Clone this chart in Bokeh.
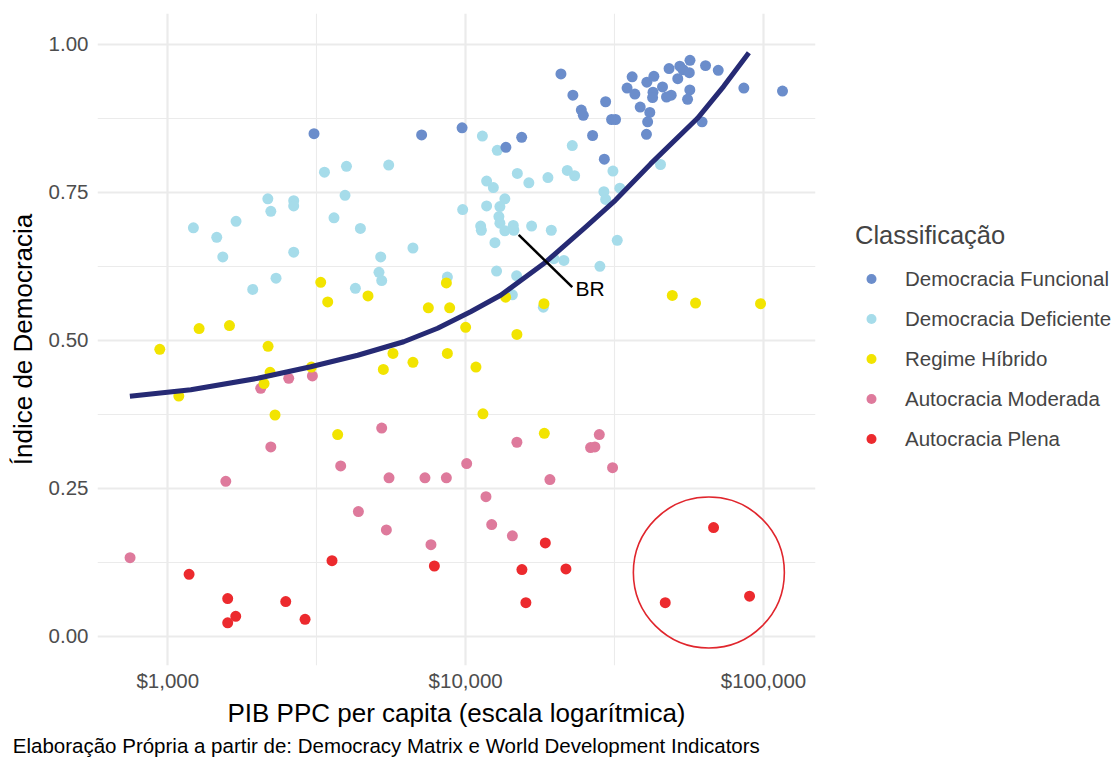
from bokeh.plotting import figure
from bokeh.models import (Range1d, FixedTicker, NumeralTickFormatter, Legend,
                          LegendItem, Label, Title)
from bokeh.embed import file_html
from bokeh.resources import INLINE

FONT = "Liberation Sans"

# ---------------- data ----------------
funcional_gdp = [3097, 7115, 9727, 13650, 15420, 20890, 22910, 24450, 24830, 26680,
                 29210, 29510, 30900, 31860, 36220, 34830, 36990, 40580, 42850, 38550,
                 41520, 40830, 40460, 42560, 42420, 45810, 48180, 52360, 53700, 56640,
                 56340, 51540, 56580, 47250, 48990, 55590, 62190, 63880, 70470, 85900,
                 115800]
funcional_idx = [0.849, 0.847, 0.859, 0.826, 0.843, 0.950, 0.914, 0.889, 0.880, 0.846,
                 0.806, 0.903, 0.873, 0.873, 0.945, 0.926, 0.916, 0.936, 0.946, 0.894,
                 0.885, 0.869, 0.848, 0.919, 0.910, 0.928, 0.959, 0.963, 0.957, 0.973,
                 0.952, 0.942, 0.923, 0.911, 0.914, 0.907, 0.869, 0.964, 0.956, 0.926,
                 0.921]

deficiente_gdp = [3357, 3980, 5517, 3936, 2167, 2218, 2647, 2647, 1695, 1219,
                  1460, 1530, 3614, 4432, 2647, 6654, 5186, 5117, 5226, 2309,
                  1928, 4264, 9772, 8682, 11380, 12770, 14910, 16300, 18890, 21940,
                  23220, 22800, 31220, 11760, 12390, 29110, 29510, 32940, 11760, 13540,
                  13030, 12930, 13030, 11230, 11290, 13540, 14450, 14520, 16650, 19390,
                  12540, 32280, 19780, 21370, 28230, 12700, 14830, 14350, 18230, 45100]
deficiente_idx = [0.784, 0.794, 0.796, 0.745, 0.739, 0.718, 0.736, 0.727, 0.701, 0.690,
                  0.674, 0.641, 0.707, 0.689, 0.649, 0.656, 0.641, 0.615, 0.601, 0.605,
                  0.586, 0.588, 0.721, 0.607, 0.845, 0.821, 0.782, 0.766, 0.775, 0.787,
                  0.778, 0.829, 0.786, 0.769, 0.758, 0.751, 0.738, 0.757, 0.727, 0.739,
                  0.726, 0.709, 0.698, 0.693, 0.686, 0.685, 0.694, 0.686, 0.693, 0.686,
                  0.665, 0.669, 0.638, 0.635, 0.625, 0.617, 0.609, 0.577, 0.556, 0.797]

hibrido_gdp = [3262, 3443, 4700, 7495, 8837, 8615, 1274, 1611, 10000, 940,
               2171, 1089, 2205, 2105, 2291, 5702, 5292, 6654, 8682, 3718,
               3035, 14860, 10830, 11430, 18370, 49400, 59130, 97720, 13620, 18320]
hibrido_idx = [0.598, 0.565, 0.575, 0.555, 0.555, 0.597, 0.520, 0.525, 0.522, 0.485,
               0.490, 0.406, 0.446, 0.427, 0.374, 0.478, 0.451, 0.463, 0.478, 0.341,
               0.455, 0.510, 0.455, 0.376, 0.343, 0.576, 0.563, 0.562, 0.573, 0.562]

moderada_gdp = [2547, 3058, 2051, 5226, 2218, 3806, 1566, 5530, 7301, 8615,
                10080, 4364, 5418, 7648, 747, 14860, 28100, 26270, 27160, 31130,
                19180, 11700, 12230, 14350]
moderada_idx = [0.436, 0.440, 0.419, 0.352, 0.320, 0.288, 0.262, 0.268, 0.268, 0.268,
                0.292, 0.211, 0.180, 0.155, 0.133, 0.328, 0.341, 0.319, 0.320, 0.285,
                0.265, 0.236, 0.189, 0.170]

plena_gdp = [1179, 3559, 7852, 1589, 2489, 1691, 1589, 2890, 18510, 15450,
             21710, 15930, 46780, 67970, 89770]
plena_idx = [0.105, 0.128, 0.119, 0.064, 0.059, 0.034, 0.023, 0.029, 0.158, 0.113,
             0.114, 0.057, 0.057, 0.184, 0.068]

# smoothed trend
curve_gdp = [746, 1195, 2005, 3019, 4341, 6194, 8054, 10390, 13105, 18550,
             25270, 31870, 41770, 60030, 73500, 89290]
curve_idx = [0.4056, 0.4166, 0.436, 0.4555, 0.4749, 0.4977, 0.5205, 0.5484, 0.5763, 0.632,
             0.6912, 0.7369, 0.7980, 0.8750, 0.9290, 0.9858]

# annotations
br_from = (15070, 0.678)
br_to = (22800, 0.590)
br_text_pos = (23390, 0.588)
circle_center = (65540, 0.108)

categories = ["Democracia Funcional", "Democracia Deficiente", "Regime Híbrido",
              "Autocracia Moderada", "Autocracia Plena"]
colors = ["#6B8DCB", "#A6DCEA", "#F2E400", "#DE7A9C", "#EC2A2E"]

x_ticks = [1000, 10000, 100000]
x_minor = [316.23, 3162.3, 31623, 316228]
y_ticks = [0.0, 0.25, 0.5, 0.75, 1.0]
y_minor = [0.125, 0.375, 0.625, 0.875]

caption = "Elaboração Própria a partir de: Democracy Matrix e World Development Indicators"

# ---------------- figure ----------------
p = figure(x_axis_type="log",
           x_range=Range1d(580.8, 149460), y_range=Range1d(-0.049, 1.052),
           frame_width=718, frame_height=652,
           min_border_left=97, min_border_top=13, min_border_right=301,
           min_border_bottom=80,
           output_backend="svg", toolbar_location=None)
p.outline_line_color = None
p.background_fill_color = "white"
p.border_fill_color = "white"

for ax, ticks, minor in ((p.xaxis, x_ticks, x_minor), (p.yaxis, y_ticks, y_minor)):
    ax.ticker = FixedTicker(ticks=ticks, minor_ticks=minor)
    ax.axis_line_color = None
    ax.major_tick_line_color = None
    ax.minor_tick_line_color = None
    ax.major_tick_out = 0
    ax.major_tick_in = 0
    ax.minor_tick_out = 0
    ax.minor_tick_in = 0
    ax.major_label_text_font = FONT
    ax.major_label_text_font_size = "20.5px"
    ax.major_label_text_color = "#4D4D4D"
    ax.axis_label_text_font = FONT
    ax.axis_label_text_font_size = "26px"
    ax.axis_label_text_font_style = "normal"
    ax.axis_label_text_color = "black"

p.xaxis.formatter = NumeralTickFormatter(format="$0,0")
p.yaxis.formatter = NumeralTickFormatter(format="0.00")
p.xaxis.axis_label = "PIB PPC per capita (escala logarítmica)"
p.yaxis.axis_label = "Índice de Democracia"
p.xaxis.major_label_standoff = 3
p.xaxis.axis_label_standoff = 3
p.yaxis.major_label_standoff = 9
p.yaxis.axis_label_standoff = 8

for g in (p.xgrid, p.ygrid):
    g.grid_line_color = "#EBEBEB"
    g.grid_line_width = 2.2
    g.minor_grid_line_color = "#EBEBEB"
    g.minor_grid_line_width = 1.1

series = {
    "Democracia Funcional": (funcional_gdp, funcional_idx),
    "Democracia Deficiente": (deficiente_gdp, deficiente_idx),
    "Regime Híbrido": (hibrido_gdp, hibrido_idx),
    "Autocracia Moderada": (moderada_gdp, moderada_idx),
    "Autocracia Plena": (plena_gdp, plena_idx),
}
renderers = {}
draw_order = ["Democracia Deficiente", "Democracia Funcional", "Autocracia Moderada",
              "Autocracia Plena", "Regime Híbrido"]
for name in draw_order:
    xs, ys = series[name]
    col = colors[categories.index(name)]
    renderers[name] = p.scatter(xs, ys, size=11, fill_color=col, line_color=None)

p.line(curve_gdp, curve_idx, line_color="#262A74", line_width=5, line_join="round")

p.segment(x0=[br_from[0]], y0=[br_from[1]], x1=[br_to[0]], y1=[br_to[1]],
          line_color="black", line_width=2.5)
p.add_layout(Label(x=br_text_pos[0], y=br_text_pos[1], text="BR",
                   text_font=FONT, text_font_size="21px", text_color="black",
                   text_baseline="middle", text_align="left"))

p.scatter([circle_center[0]], [circle_center[1]], size=151, fill_color=None,
          line_color="#E0262D", line_width=1.6)

legend = Legend(items=[LegendItem(label=c, renderers=[renderers[c]]) for c in categories],
                location=(40, 214), title="Classificação",
                title_text_font=FONT, title_text_font_size="25.5px",
                title_text_font_style="normal", title_standoff=16,
                label_text_font=FONT, label_text_font_size="20.5px",
                glyph_width=32, glyph_height=25, label_height=25,
                label_standoff=18, spacing=15, padding=0, margin=0,
                border_line_color=None, background_fill_alpha=0)
p.add_layout(legend, "right")

p.add_layout(Title(text=caption, align="left", offset=-84.7, standoff=3,
                   text_font=FONT, text_font_size="20.5px", text_font_style="normal",
                   text_color="black"), "below")

open("out.html", "w").write(file_html(p, INLINE))
